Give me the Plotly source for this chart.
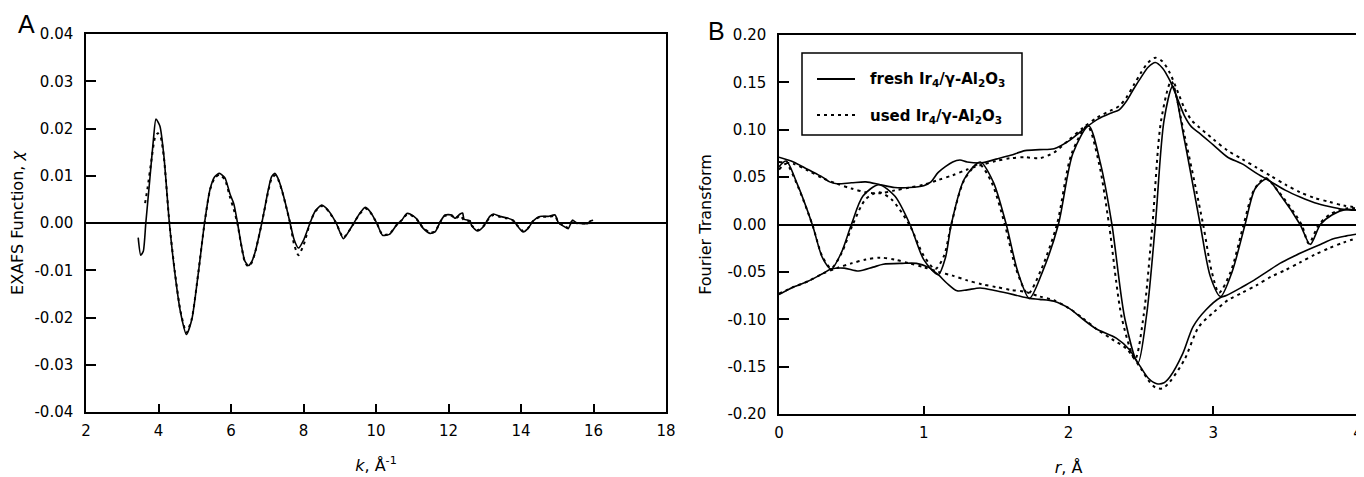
import plotly.graph_objects as go

# -----------------------------------------------------
# Panel A data: EXAFS function chi(k)
# -----------------------------------------------------

k_fresh = [3.44, 3.51, 3.58, 3.65, 3.76, 3.86, 3.93, 4.04, 4.15, 4.30, 4.45, 4.61, 4.77,
           4.92, 5.10, 5.27, 5.42, 5.55, 5.68, 5.83, 5.97, 6.08, 6.18, 6.29, 6.38, 6.48,
           6.57, 6.66, 6.85, 7.03, 7.12, 7.21, 7.30, 7.40, 7.52, 7.63, 7.74, 7.86, 8.01,
           8.18, 8.32, 8.50, 8.62, 8.73, 8.90, 9.10, 9.28, 9.42, 9.55, 9.70, 9.83, 10.02,
           10.18, 10.37, 10.57, 10.71, 10.85, 10.94, 11.12, 11.31, 11.49, 11.63, 11.77,
           11.90, 12.09, 12.18, 12.32, 12.39, 12.43, 12.59, 12.64, 12.80, 12.96, 13.14,
           13.24, 13.42, 13.60, 13.78, 13.92, 14.06, 14.19, 14.33, 14.52, 14.75, 14.94,
           15.03, 15.16, 15.30, 15.42, 15.53, 15.67, 15.85, 15.90, 15.99]
chi_fresh = [-0.0031, -0.0068, -0.0060, 0.0000, 0.0092, 0.0177, 0.0220, 0.0205, 0.0141,
             0.0000, -0.0105, -0.0190, -0.0236, -0.0204, -0.0105, 0.0000, 0.0071, 0.0098,
             0.0105, 0.0096, 0.0062, 0.0040, 0.0000, -0.0049, -0.0080, -0.0090, -0.0082,
             -0.0063, 0.0000, 0.0071, 0.0098, 0.0105, 0.0094, 0.0071, 0.0036, 0.0000,
             -0.0035, -0.0053, -0.0035, 0.0000, 0.0025, 0.0038, 0.0032, 0.0022, 0.0000,
             -0.0033, -0.0014, 0.0004, 0.0020, 0.0033, 0.0025, 0.0000, -0.0026, -0.0024,
             -0.0004, 0.0006, 0.0020, 0.0019, 0.0009, -0.0012, -0.0022, -0.0019, 0.0002,
             0.0017, 0.0017, 0.0010, 0.0019, 0.0021, 0.0008, 0.0005, -0.0006, -0.0017,
             -0.0008, 0.0014, 0.0019, 0.0014, 0.0011, 0.0006, -0.0008, -0.0019, -0.0012,
             0.0004, 0.0014, 0.0014, 0.0017, 0.0001, -0.0006, -0.0012, 0.0006, 0.0000,
             -0.0001, -0.0001, 0.0004, 0.0006]

k_used = [3.63, 3.70, 3.80, 3.90, 3.98, 4.06, 4.15, 4.30, 4.45, 4.61, 4.77, 4.92, 5.10,
          5.27, 5.42, 5.55, 5.68, 5.83, 5.97, 6.08, 6.18, 6.29, 6.38, 6.48, 6.57, 6.66,
          6.85, 7.03, 7.12, 7.21, 7.30, 7.40, 7.52, 7.63, 7.74, 7.86, 8.01, 8.18, 8.32,
          8.50, 8.62, 8.73, 8.90, 9.10, 9.28, 9.42, 9.55, 9.70, 9.83, 10.02, 10.18, 10.37,
          10.57, 10.71, 10.85, 10.94, 11.12, 11.31, 11.49, 11.63, 11.77, 11.90, 12.09,
          12.18, 12.32, 12.43, 12.59, 12.64, 12.80, 12.96, 13.14, 13.24, 13.42, 13.60,
          13.78, 13.92, 14.06, 14.19, 14.33, 14.52, 14.75, 14.94, 15.03, 15.16, 15.30,
          15.42, 15.53, 15.67, 15.85, 15.99]
chi_used = [0.0042, 0.0075, 0.0130, 0.0180, 0.0190, 0.0182, 0.0138, 0.0000, -0.0103,
            -0.0188, -0.0232, -0.0202, -0.0104, 0.0000, 0.0070, 0.0095, 0.0102, 0.0092,
            0.0055, 0.0028, -0.0002, -0.0050, -0.0082, -0.0092, -0.0084, -0.0064, 0.0000,
            0.0068, 0.0094, 0.0101, 0.0092, 0.0070, 0.0035, 0.0000, -0.0045, -0.0068,
            -0.0045, 0.0000, 0.0024, 0.0036, 0.0031, 0.0021, 0.0000, -0.0031, -0.0014,
            0.0004, 0.0019, 0.0031, 0.0024, 0.0000, -0.0025, -0.0023, -0.0004, 0.0006,
            0.0018, 0.0018, 0.0008, -0.0011, -0.0020, -0.0018, 0.0002, 0.0015, 0.0015,
            0.0009, 0.0016, 0.0006, 0.0004, -0.0005, -0.0015, -0.0007, 0.0012, 0.0017,
            0.0013, 0.0010, 0.0005, -0.0007, -0.0017, -0.0011, 0.0004, 0.0013, 0.0013,
            0.0015, 0.0001, -0.0005, -0.0010, 0.0005, 0.0000, -0.0001, -0.0001, 0.0005]

# -----------------------------------------------------
# Panel B data: Fourier transform (imaginary part and magnitude)
# -----------------------------------------------------

r_fresh_im = [0.00, 0.05, 0.12, 0.23, 0.30, 0.36, 0.43, 0.50, 0.58, 0.69, 0.80, 0.905,
              1.00, 1.10, 1.15, 1.19, 1.28, 1.39, 1.48, 1.57, 1.65, 1.73, 1.82, 1.93,
              2.03, 2.14, 2.22, 2.30, 2.39, 2.48, 2.54, 2.60, 2.66, 2.72, 2.80, 2.91,
              2.98, 3.05, 3.13, 3.22, 3.29, 3.37, 3.46, 3.60, 3.67, 3.74, 3.82, 3.92, 4.00]
ft_fresh_im = [0.061, 0.067, 0.045, 0.000, -0.035, -0.047, -0.030, 0.000, 0.030, 0.042,
               0.030, 0.000, -0.037, -0.053, -0.035, 0.000, 0.048, 0.066, 0.045, 0.000,
               -0.050, -0.078, -0.050, 0.000, 0.075, 0.104, 0.065, 0.000, -0.100, -0.146,
               -0.095, 0.000, 0.110, 0.146, 0.090, 0.000, -0.055, -0.076, -0.050, 0.000,
               0.038, 0.048, 0.032, 0.000, -0.021, 0.000, 0.010, 0.016, 0.015]

r_fresh_up = [0.0, 0.1, 0.2, 0.3, 0.35, 0.4, 0.5, 0.6, 0.7, 0.8, 0.9, 1.0, 1.05, 1.1, 1.2,
              1.25, 1.3, 1.4, 1.5, 1.6, 1.7, 1.8, 1.9, 2.0, 2.1, 2.2, 2.3, 2.35, 2.4, 2.45,
              2.5, 2.55, 2.6, 2.65, 2.7, 2.76, 2.8, 2.85, 2.9, 3.0, 3.1, 3.2, 3.3, 3.4, 3.5,
              3.6, 3.7, 3.8, 3.9, 4.0]
ft_fresh_up = [0.071, 0.066, 0.058, 0.050, 0.045, 0.043, 0.044, 0.045, 0.042, 0.039, 0.039,
               0.041, 0.045, 0.055, 0.066, 0.068, 0.066, 0.065, 0.069, 0.073, 0.078, 0.079,
               0.080, 0.088, 0.100, 0.111, 0.118, 0.121, 0.130, 0.143, 0.155, 0.166, 0.171,
               0.165, 0.152, 0.130, 0.115, 0.103, 0.097, 0.084, 0.071, 0.064, 0.054, 0.045,
               0.036, 0.029, 0.023, 0.019, 0.016, 0.015]

r_fresh_low = [0.0, 0.1, 0.2, 0.3, 0.36, 0.45, 0.55, 0.65, 0.72, 0.85, 0.95, 1.03, 1.10,
               1.16, 1.23, 1.30, 1.39, 1.50, 1.62, 1.73, 1.80, 1.90, 2.01, 2.10, 2.19, 2.33,
               2.42, 2.48, 2.55, 2.61, 2.66, 2.70, 2.79, 2.86, 2.95, 3.05, 3.09, 3.20, 3.28,
               3.37, 3.46, 3.55, 3.65, 3.74, 3.83, 3.92, 4.00]
ft_fresh_low = [-0.074, -0.066, -0.060, -0.052, -0.047, -0.046, -0.049, -0.045, -0.042,
                -0.041, -0.041, -0.045, -0.053, -0.062, -0.070, -0.069, -0.067, -0.070,
                -0.074, -0.078, -0.079, -0.081, -0.089, -0.100, -0.110, -0.120, -0.132,
                -0.146, -0.162, -0.168, -0.167, -0.161, -0.136, -0.108, -0.090, -0.077,
                -0.075, -0.066, -0.059, -0.050, -0.041, -0.034, -0.027, -0.021, -0.015,
                -0.012, -0.010]

r_used_im = [0.00, 0.05, 0.12, 0.23, 0.30, 0.36, 0.43, 0.51, 0.60, 0.69, 0.78, 0.90, 1.00,
             1.08, 1.14, 1.19, 1.28, 1.38, 1.47, 1.56, 1.64, 1.72, 1.81, 1.92, 2.02, 2.13,
             2.21, 2.28, 2.37, 2.46, 2.52, 2.58, 2.64, 2.71, 2.80, 2.93, 2.99, 3.04, 3.12,
             3.21, 3.28, 3.36, 3.45, 3.61, 3.66, 3.73, 3.81, 3.92, 4.00]
ft_used_im = [0.058, 0.064, 0.044, 0.000, -0.034, -0.046, -0.031, 0.000, 0.027, 0.034,
              0.026, 0.000, -0.033, -0.047, -0.033, 0.000, 0.047, 0.064, 0.044, 0.000,
              -0.048, -0.073, -0.048, 0.000, 0.074, 0.104, 0.065, 0.000, -0.100, -0.142,
              -0.095, 0.000, 0.110, 0.151, 0.095, 0.000, -0.050, -0.072, -0.050, 0.000,
              0.036, 0.049, 0.035, 0.000, -0.020, 0.000, 0.011, 0.017, 0.017]

r_used_up = [0.0, 0.1, 0.2, 0.3, 0.4, 0.5, 0.6, 0.7, 0.8, 0.9, 1.0, 1.1, 1.2, 1.3, 1.4,
             1.5, 1.6, 1.7, 1.8, 1.9, 2.0, 2.1, 2.2, 2.3, 2.35, 2.4, 2.45, 2.5, 2.55, 2.6,
             2.65, 2.7, 2.76, 2.8, 2.85, 2.9, 3.0, 3.1, 3.2, 3.3, 3.4, 3.5, 3.6, 3.7, 3.8,
             3.9, 4.0]
ft_used_up = [0.066, 0.064, 0.057, 0.049, 0.043, 0.038, 0.034, 0.033, 0.036, 0.039, 0.042,
              0.047, 0.052, 0.058, 0.063, 0.067, 0.070, 0.071, 0.070, 0.076, 0.089, 0.102,
              0.113, 0.121, 0.125, 0.134, 0.147, 0.160, 0.171, 0.176, 0.172, 0.160, 0.138,
              0.123, 0.110, 0.103, 0.090, 0.078, 0.069, 0.060, 0.051, 0.042, 0.034, 0.028,
              0.024, 0.020, 0.018]

r_used_low = [0.0, 0.1, 0.2, 0.3, 0.4, 0.5, 0.6, 0.7, 0.8, 0.9, 1.0, 1.1, 1.2, 1.3, 1.4,
              1.5, 1.6, 1.7, 1.8, 1.9, 2.0, 2.1, 2.2, 2.3, 2.4, 2.5, 2.55, 2.6, 2.65, 2.7,
              2.8, 2.9, 3.0, 3.1, 3.2, 3.3, 3.4, 3.5, 3.6, 3.7, 3.8, 3.9, 4.0]
ft_used_low = [-0.073, -0.066, -0.060, -0.052, -0.046, -0.041, -0.037, -0.035, -0.037,
               -0.041, -0.045, -0.050, -0.054, -0.059, -0.063, -0.066, -0.069, -0.071,
               -0.076, -0.080, -0.088, -0.099, -0.111, -0.121, -0.131, -0.152, -0.164,
               -0.172, -0.173, -0.166, -0.143, -0.108, -0.093, -0.080, -0.072, -0.064,
               -0.055, -0.048, -0.040, -0.032, -0.025, -0.019, -0.014]

# -----------------------------------------------------
# Tick labels
# -----------------------------------------------------

a_xticks = [2, 4, 6, 8, 10, 12, 14, 16, 18]
a_xtext = ["2", "4", "6", "8", "10", "12", "14", "16", "18"]
a_yticks = [-0.04, -0.03, -0.02, -0.01, 0.0, 0.01, 0.02, 0.03, 0.04]
a_ytext = ["-0.04", "-0.03", "-0.02", "-0.01", "0.00", "0.01", "0.02", "0.03", "0.04"]
b_xticks = [0, 1, 2, 3, 4]
b_xtext = ["0", "1", "2", "3", "4"]
b_yticks = [-0.20, -0.15, -0.10, -0.05, 0.0, 0.05, 0.10, 0.15, 0.20]
b_ytext = ["-0.20", "-0.15", "-0.10", "-0.05", "0.00", "0.05", "0.10", "0.15", "0.20"]

# -----------------------------------------------------
# Build figure
# -----------------------------------------------------

# the page body keeps its default 8px margin, so the figure is made 8px
# smaller and every page position is shifted by that amount
PAGE_W, PAGE_H, BODY = 1364, 477, 8
W, H = PAGE_W - BODY, PAGE_H - BODY
FONT = "DejaVu Sans"
solid = dict(color="black", width=1.6)
dotted = dict(color="black", width=2, dash="3px,4px")


def px(x):
    return (x - BODY) / W


def py(y):
    return 1 - (y - BODY) / H


fig = go.Figure()

fig.add_trace(go.Scatter(x=k_fresh, y=chi_fresh, mode="lines", line=solid,
                         line_shape="spline", line_smoothing=0.6,
                         showlegend=False, xaxis="x", yaxis="y"))
fig.add_trace(go.Scatter(x=k_used, y=chi_used, mode="lines", line=dotted,
                         line_shape="spline", line_smoothing=0.6,
                         showlegend=False, xaxis="x", yaxis="y"))

for xs, ys in [(r_fresh_im, ft_fresh_im), (r_fresh_up, ft_fresh_up),
               (r_fresh_low, ft_fresh_low)]:
    fig.add_trace(go.Scatter(x=xs, y=ys, mode="lines", line=solid,
                             line_shape="spline", line_smoothing=0.8,
                             showlegend=False, xaxis="x2", yaxis="y2"))

for xs, ys in [(r_used_im, ft_used_im), (r_used_up, ft_used_up),
               (r_used_low, ft_used_low)]:
    fig.add_trace(go.Scatter(x=xs, y=ys, mode="lines", line=dotted,
                             line_shape="spline", line_smoothing=0.8,
                             showlegend=False, xaxis="x2", yaxis="y2"))

axis_style = dict(
    showline=True, linecolor="black", linewidth=1.5, mirror=True,
    ticks="inside", tickcolor="black", tickwidth=1.5, automargin=False,
    showgrid=False, tickfont=dict(family=FONT, size=15, color="black"),
)

# legend box drawn by hand so the sample lines and padding match
legend_shapes = [
    dict(type="rect", xref="paper", yref="paper", x0=px(802), x1=px(1022),
         y0=py(135), y1=py(53), line=dict(color="black", width=1.5), fillcolor="white"),
    dict(type="line", xref="paper", yref="paper", x0=px(817), x1=px(855),
         y0=py(79), y1=py(79), line=dict(color="black", width=2)),
    dict(type="line", xref="paper", yref="paper", x0=px(817), x1=px(855),
         y0=py(115), y1=py(115), line=dict(color="black", width=2, dash="3px,4px")),
]

legend_texts = [
    dict(text="<b>fresh Ir<sub>4</sub>/γ-Al<sub>2</sub>O<sub>3</sub></b>",
         x=px(868), y=py(80), xanchor="left", yanchor="middle"),
    dict(text="<b>used Ir<sub>4</sub>/γ-Al<sub>2</sub>O<sub>3</sub></b>",
         x=px(868), y=py(116), xanchor="left", yanchor="middle"),
]
for t in legend_texts:
    t.update(xref="paper", yref="paper", showarrow=False,
             font=dict(family=FONT, size=15, color="black"))

panel_letters = [
    dict(text="A", x=px(26), y=py(24)),
    dict(text="B", x=px(716), y=py(31)),
]
for t in panel_letters:
    t.update(xref="paper", yref="paper", showarrow=False, xanchor="center",
             yanchor="middle", font=dict(family="Liberation Sans", size=25, color="black"))

fig.update_layout(
    width=W, height=H,
    margin=dict(l=0, r=0, t=0, b=0),
    paper_bgcolor="white", plot_bgcolor="white",
    font=dict(family=FONT, color="black"),
    showlegend=False,
    xaxis=dict(axis_style, domain=[px(86), px(666)], range=[2, 18], anchor="y",
               tickvals=a_xticks, ticktext=a_xtext, ticklen=8, zeroline=False,
               ticklabelstandoff=4,
               title=dict(text="<i>k</i>, Å<sup>-1</sup>", standoff=21,
                          font=dict(family=FONT, size=16))),
    yaxis=dict(axis_style, domain=[py(412), py(34)], range=[-0.04, 0.04], anchor="x",
               tickvals=a_yticks, ticktext=a_ytext, ticklen=10,
               zeroline=True, zerolinecolor="black", zerolinewidth=1.5,
               ticklabelstandoff=8,
               title=dict(text="EXAFS Function, <i>χ</i>", standoff=10,
                          font=dict(family=FONT, size=16))),
    xaxis2=dict(axis_style, domain=[px(779), px(1358)], range=[0, 4], anchor="y2",
                tickvals=b_xticks, ticktext=b_xtext, ticklen=8, zeroline=False,
                ticklabelstandoff=4,
                title=dict(text="<i>r</i>, Å", standoff=21,
                           font=dict(family=FONT, size=16))),
    yaxis2=dict(axis_style, domain=[py(414), py(35)], range=[-0.2, 0.2], anchor="x2",
                tickvals=b_yticks, ticktext=b_ytext, ticklen=10,
                zeroline=True, zerolinecolor="black", zerolinewidth=1.5,
                ticklabelstandoff=8,
                title=dict(text="Fourier Transform", standoff=12,
                           font=dict(family=FONT, size=16))),
    shapes=legend_shapes,
    annotations=legend_texts + panel_letters,
)

fig.write_html("out.html")
